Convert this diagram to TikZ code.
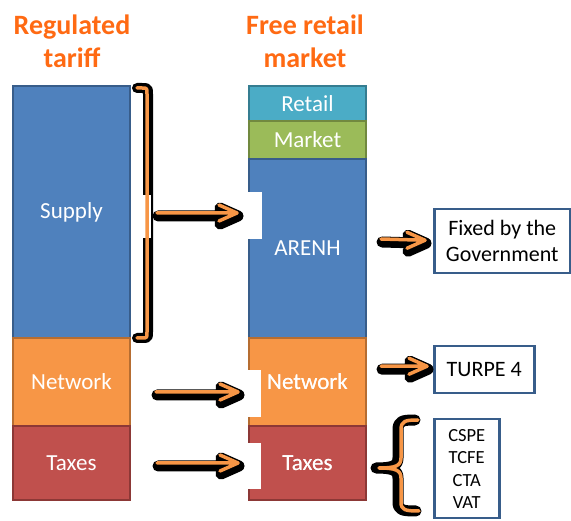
\documentclass[tikz,border=0pt]{standalone}
\usepackage{fontspec}
\setmainfont{Carlito}
\usetikzlibrary{positioning,calc}

\definecolor{titleorange}{RGB}{255,106,19}
\definecolor{segblue}{RGB}{79,129,189}
\definecolor{segblueb}{RGB}{56,93,138}
\definecolor{segorange}{RGB}{247,150,70}
\definecolor{segorangeb}{RGB}{182,109,49}
\definecolor{segred}{RGB}{192,80,77}
\definecolor{segredb}{RGB}{140,56,54}
\definecolor{segteal}{RGB}{75,172,198}
\definecolor{segtealb}{RGB}{53,125,145}
\definecolor{seggreen}{RGB}{155,187,89}
\definecolor{seggreenb}{RGB}{113,137,63}
\definecolor{arrowcore}{RGB}{247,150,70}

\tikzset{
  seg/.style={draw, line width=2.5pt, minimum width=117pt, inner sep=0pt, outer sep=0pt,
    text=white, font=\fontsize{23}{26}\selectfont},
  coltitle/.style={align=center, text=titleorange, font=\fontsize{28}{33}\selectfont\bfseries},
  infobox/.style={draw=segblueb, line width=2.5pt, fill=white, align=center, inner sep=0pt,
    font=\fontsize{22}{26}\selectfont},
  arrowout/.style={black, line width=11pt, line cap=round, line join=round},
  arrowin/.style={arrowcore, line width=3.5pt, line cap=round, line join=round},
  patch/.style={fill=white, draw=none}
}

% fat arrow: black shadow below, orange line on top
\newcommand\fatarrow[2]{%
  \draw[arrowout] ([shift={(1,3)}]#1) -- ([shift={(1,3)}]#2) ++(-18,-8) -- ([shift={(1,3)}]#2) -- ++(-18,8);
  \draw[arrowin] (#1) -- (#2) ++(-18,-8) -- (#2) -- ++(-18,8);
}

\begin{document}
\begin{tikzpicture}[x=1pt,y=-1pt]
\useasboundingbox (0,0) rectangle (571,521);

% titles
\node[coltitle] (regtitle) at (72,41) {Regulated\\tariff};
\node[coltitle] (freetitle) at (305,41) {Free retail\\market};

% regulated tariff column
\node[seg, fill=segblue, draw=segblueb, minimum height=252pt, anchor=north west] (supply) at (13,86) {Supply};
\node[seg, fill=segorange, draw=segorangeb, minimum height=88pt, below=0pt of supply] (network) {Network};
\node[seg, fill=segred, draw=segredb, minimum height=74pt, below=0pt of network] (taxes) {Taxes};

% free retail market column
\node[seg, fill=segteal, draw=segtealb, minimum height=35pt, anchor=north west] (retail) at (249,86) {Retail};
\node[seg, fill=seggreen, draw=seggreenb, minimum height=38pt, below=0pt of retail] (market) {Market};
\node[seg, fill=segblue, draw=segblueb, minimum height=179pt, below=0pt of market] (arenh) {ARENH};
\node[seg, fill=segorange, draw=segorangeb, minimum height=88pt, below=0pt of arenh] (network2) {Network};
\node[seg, fill=segred, draw=segredb, minimum height=74pt, below=0pt of network2] (taxes2) {Taxes};

% white gaps over the column edge
\fill[patch] (248,192) rectangle (262,239);
\fill[patch] (248,370) rectangle (261,417);
\fill[patch] (248,443) rectangle (261,489);
\node[font=\fontsize{23}{26}\selectfont, text=white, inner sep=0pt] at (network2) {Network};
\node[font=\fontsize{23}{26}\selectfont, text=white, inner sep=0pt] at (taxes2) {Taxes};

% boxes on the right
\node[infobox, minimum width=136pt, minimum height=64pt, anchor=north west] (fixed) at (433,208) {Fixed by the\\Government};
\node[infobox, minimum width=100pt, minimum height=47pt, anchor=north west] (turpe) at (433,345) {TURPE 4};
\node[infobox, minimum width=65pt, minimum height=99pt, anchor=north west,
  font=\fontsize{18.5}{22.5}\selectfont] (taxlist) at (433,418) {CSPE\\TCFE\\CTA\\VAT};

% bracket round supply
\draw[arrowout, line width=10pt] (137,88) -- (142,88) .. controls (148,88) .. (148,94) -- (148,332)
  .. controls (148,338) .. (142,338) -- (137,338);
\fill[patch] (143,195) rectangle (151,238);
\draw[arrowin] (137,88) -- (142,88) .. controls (147,88) .. (147,94) -- (147,332)
  .. controls (147,338) .. (142,338) -- (137,338);

% brace before the tax list
\draw[arrowout, xshift=-3pt] (418,420) .. controls (405,420) and (401,421) .. (401,430) -- (401,458)
  .. controls (401,466) and (395,468) .. (379,468)
  .. controls (395,468) and (401,470) .. (401,478) -- (401,502)
  .. controls (401,510) and (405,511) .. (419,511);
\draw[arrowin] (418,420) .. controls (405,420) and (401,421) .. (401,430) -- (401,458)
  .. controls (401,466) and (395,468) .. (379,468)
  .. controls (395,468) and (401,470) .. (401,478) -- (401,502)
  .. controls (401,510) and (405,511) .. (419,511);

% arrows
\coordinate (supplyfrom) at ($(supply.east)+(27,1)$);
\coordinate (supplyto) at ($(arenh.west |- supplyfrom)+(-12,0)$);
\coordinate (netfrom) at ($(network.east)+(26,10)$);
\coordinate (netto) at ($(network2.west)+(-11,10)$);
\coordinate (taxfrom) at ($(taxes.east)+(27,0)$);
\coordinate (taxto) at ($(taxes2.west)+(-11,0)$);
\coordinate (arenhfrom) at ($(arenh.east)+(15,-9.5)$);
\coordinate (fixedto) at ($(fixed.west)+(-8,-1)$);
\coordinate (netfrom2) at ($(network2.east |- turpe.west)+(15,-3.5)$);
\coordinate (turpeto) at ($(turpe.west)+(-6,-3.5)$);

\fatarrow{supplyfrom}{supplyto}
\fatarrow{netfrom}{netto}
\fatarrow{taxfrom}{taxto}
\fatarrow{arenhfrom}{fixedto}
\fatarrow{netfrom2}{turpeto}
\end{tikzpicture}
\end{document}
